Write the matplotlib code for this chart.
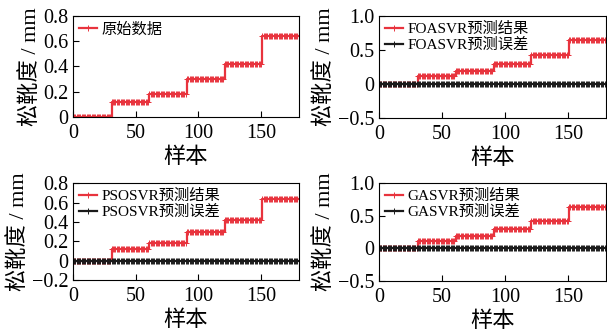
import matplotlib
matplotlib.use("Agg")
import matplotlib.pyplot as plt
import numpy as np

plt.rcParams.update({
    "font.family": ["Liberation Serif", "Noto Sans CJK SC"],
    "font.size": 14.5,
    "axes.linewidth": 0.8,
    "xtick.direction": "in",
    "ytick.direction": "in",
    "xtick.major.size": 4,
    "ytick.major.size": 4,
})

RED = "#e8333d"
BLK = "#1a1a1a"

# step levels (one level per 30-sample block)
seg_len = 30
raw_levels = [0.0, 0.12, 0.18, 0.30, 0.42, 0.64]
foa_levels = [0.0, 0.12, 0.19, 0.30, 0.42, 0.64]
pso_levels = [0.0, 0.12, 0.18, 0.30, 0.42, 0.64]
ga_levels = [0.0, 0.12, 0.19, 0.30, 0.42, 0.64]
err_levels = [0.0, 0.0, 0.0, 0.0, 0.0, 0.0]

x_ticks = [0, 50, 100, 150]
panels = [
    # (rect, series, yticks, yticklabels)
    ([0.120, 0.649, 0.372, 0.303], [("原始数据", raw_levels, RED)],
     [0, 0.2, 0.4, 0.6, 0.8], ["0", "0.2", "0.4", "0.6", "0.8"]),
    ([0.624, 0.646, 0.374, 0.306], [("FOASVR预测结果", foa_levels, RED),
                                    ("FOASVR预测误差", err_levels, BLK)],
     [-0.5, 0, 0.5, 1.0], ["−0.5", "0", "0.5", "1.0"]),
    ([0.120, 0.159, 0.372, 0.291], [("PSOSVR预测结果", pso_levels, RED),
                                    ("PSOSVR预测误差", err_levels, BLK)],
     [-0.2, 0, 0.2, 0.4, 0.6, 0.8], ["−0.2", "0", "0.2", "0.4", "0.6", "0.8"]),
    ([0.624, 0.156, 0.374, 0.294], [("GASVR预测结果", ga_levels, RED),
                                    ("GASVR预测误差", err_levels, BLK)],
     [-0.5, 0, 0.5, 1.0], ["−0.5", "0", "0.5", "1.0"]),
]

fig = plt.figure(figsize=(6.07, 3.33), dpi=100)
x = np.arange(1, 6 * seg_len + 1)
for rect, series, yt, ytl in panels:
    ax = fig.add_axes(rect)
    for name, lv, c in series:
        y = np.repeat(lv, seg_len)
        ax.plot(x, y, color=c, lw=1.6, marker="+", ms=4, mew=0.7,
                label=name, drawstyle="steps-post")
    ax.set_xlim(0, 180)
    ax.set_ylim(yt[0], yt[-1])
    ax.set_xticks(x_ticks)
    ax.set_yticks(yt)
    ax.set_yticklabels(ytl)
    ax.tick_params(axis="x", pad=5)
    ax.tick_params(axis="y", pad=3)
    ax.set_xlabel("样本", fontsize=16, labelpad=3)
    ax.set_ylabel("松靴度 / mm", fontsize=16, labelpad=2)
    ax.legend(loc="upper left", frameon=False, fontsize=11,
              handlelength=1.2, handletextpad=0.3, borderaxespad=0.2,
              labelspacing=0.1, borderpad=0.2)

fig.savefig("out.png", dpi=100)
